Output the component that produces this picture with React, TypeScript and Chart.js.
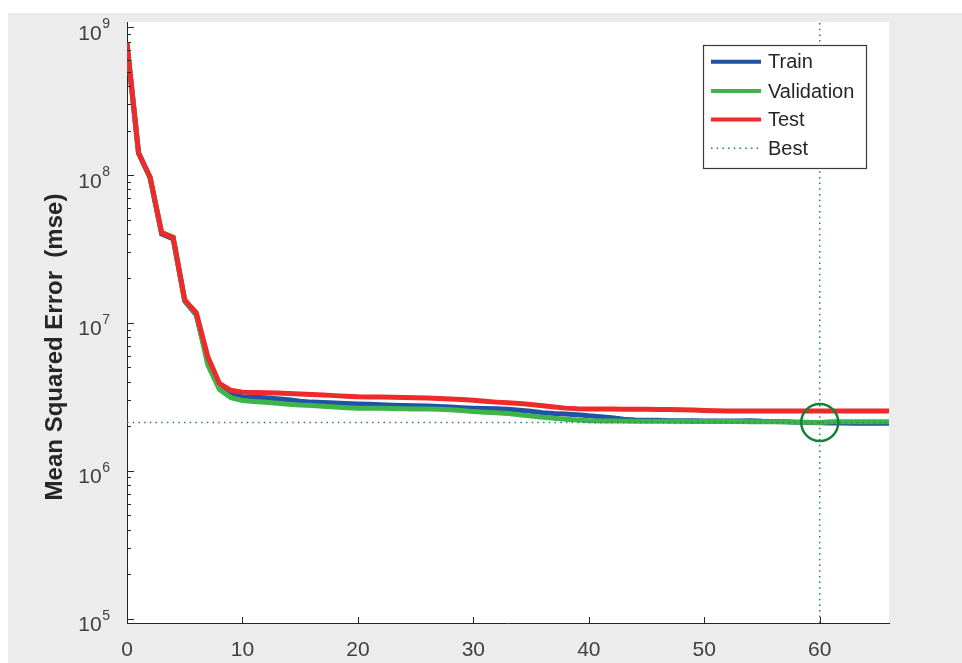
import React, { useEffect, useRef } from "react";
import { Chart, registerables } from "chart.js";

Chart.register(...registerables);

// ---------------- data ----------------
const epochs = [
  0, 1, 2, 3, 4, 5, 6, 7, 8, 9, 10, 11, 12, 13, 14, 15, 16, 17, 18, 19, 20, 21,
  22, 23, 24, 25, 26, 27, 28, 29, 30, 31, 32, 33, 34, 35, 36, 37, 38, 39, 40, 41,
  42, 43, 44, 45, 46, 47, 48, 49, 50, 51, 52, 53, 54, 55, 56, 57, 58, 59, 60, 61,
  62, 63, 64, 65, 66,
];

const trainMse = [
  7.6e8, 1.4e8, 9.6e7, 4.0e7, 3.7e7, 1.4e7, 1.13e7, 5.5e6, 3.75e6, 3.3e6,
  3.17e6, 3.14e6, 3.11e6, 3.07e6, 3.02e6, 2.95e6, 2.91e6, 2.89e6, 2.87e6, 2.85e6,
  2.83e6, 2.81e6, 2.79e6, 2.77e6, 2.76e6, 2.75e6, 2.74e6, 2.72e6, 2.7e6, 2.67e6,
  2.65e6, 2.63e6, 2.62e6, 2.6e6, 2.56e6, 2.52e6, 2.47e6, 2.44e6, 2.42e6, 2.39e6,
  2.35e6, 2.32e6, 2.28e6, 2.23e6, 2.2e6, 2.19e6, 2.19e6, 2.18e6, 2.18e6, 2.18e6,
  2.17e6, 2.17e6, 2.17e6, 2.17e6, 2.18e6, 2.16e6, 2.15e6, 2.14e6, 2.13e6, 2.12e6,
  2.11e6, 2.1e6, 2.1e6, 2.09e6, 2.09e6, 2.09e6, 2.09e6,
];

const validationMse = [
  7.7e8, 1.42e8, 9.5e7, 4.1e7, 3.8e7, 1.42e7, 1.15e7, 5.2e6, 3.55e6, 3.12e6,
  2.98e6, 2.94e6, 2.9e6, 2.86e6, 2.82e6, 2.78e6, 2.76e6, 2.73e6, 2.7e6, 2.67e6,
  2.65e6, 2.65e6, 2.64e6, 2.63e6, 2.62e6, 2.61e6, 2.61e6, 2.6e6, 2.58e6, 2.55e6,
  2.51e6, 2.49e6, 2.47e6, 2.44e6, 2.39e6, 2.34e6, 2.3e6, 2.26e6, 2.23e6, 2.2e6,
  2.18e6, 2.17e6, 2.17e6, 2.17e6, 2.16e6, 2.16e6, 2.16e6, 2.16e6, 2.16e6, 2.15e6,
  2.15e6, 2.15e6, 2.15e6, 2.15e6, 2.14e6, 2.14e6, 2.14e6, 2.14e6, 2.13e6, 2.13e6,
  2.12e6, 2.14e6, 2.14e6, 2.14e6, 2.14e6, 2.14e6, 2.14e6,
];

const testMse = [
  7.85e8, 1.41e8, 9.7e7, 4.06e7, 3.76e7, 1.43e7, 1.17e7, 5.9e6, 3.9e6, 3.5e6,
  3.4e6, 3.38e6, 3.37e6, 3.35e6, 3.33e6, 3.3e6, 3.28e6, 3.25e6, 3.22e6, 3.19e6,
  3.16e6, 3.15e6, 3.15e6, 3.14e6, 3.13e6, 3.12e6, 3.1e6, 3.08e6, 3.06e6, 3.03e6,
  3.0e6, 2.95e6, 2.91e6, 2.88e6, 2.85e6, 2.8e6, 2.75e6, 2.7e6, 2.65e6, 2.62e6,
  2.61e6, 2.61e6, 2.61e6, 2.6e6, 2.6e6, 2.6e6, 2.59e6, 2.59e6, 2.58e6, 2.57e6,
  2.55e6, 2.54e6, 2.53e6, 2.53e6, 2.53e6, 2.53e6, 2.53e6, 2.53e6, 2.53e6, 2.53e6,
  2.53e6, 2.53e6, 2.53e6, 2.53e6, 2.53e6, 2.53e6, 2.53e6,
];

const bestEpoch = 60;
const bestPerf = 2.12e6;

const seriesLabels = ["Train", "Validation", "Test", "Best"];
const xTicks = [0, 10, 20, 30, 40, 50, 60];
const yTicks = [1e5, 1e6, 1e7, 1e8, 1e9];
const yTickBase = "10";
const xRange = [0, 66];
const yRange = [9.33e4, 1.084e9];
const yTitle = "Mean Squared Error  (mse)";

// ---------------- styles ----------------
const FONT = "'Liberation Sans', Arial, Helvetica, sans-serif";
const COLORS = {
  train: "#2152a6",
  validation: "#3db54a",
  test: "#ee2a2a",
  best: "#1e8a4a",
  circle: "#168038",
  axis: "#262626",
  tickText: "#404040",
  figure: "#ececec",
};

const backgroundPlugin = {
  id: "figureBackground",
  beforeDraw(chart: any) {
    const { ctx, chartArea: a, width, height } = chart;
    ctx.save();
    ctx.fillStyle = COLORS.figure;
    ctx.fillRect(0, 0, width, height);
    ctx.fillStyle = "#ffffff";
    ctx.fillRect(a.left, a.top, a.right - a.left, a.bottom - a.top);
    ctx.restore();
  },
};

const decorPlugin = {
  id: "matlabDecor",
  afterDraw(chart: any) {
    const { ctx, chartArea: a } = chart;
    const xs = chart.scales.x;
    const ys = chart.scales.y;
    ctx.save();
    // inward ticks on y (major + minor)
    ctx.strokeStyle = COLORS.axis;
    ctx.lineWidth = 1;
    for (let d = 4; d <= 9; d++) {
      for (let m = 1; m <= 9; m++) {
        const v = m * Math.pow(10, d);
        if (v < ys.min || v > ys.max) continue;
        const py = Math.round(ys.getPixelForValue(v)) + 0.5;
        const len = m === 1 ? 7 : 4;
        ctx.beginPath();
        ctx.moveTo(a.left, py);
        ctx.lineTo(a.left + len, py);
        ctx.stroke();
      }
    }
    // inward ticks on x
    for (const t of xTicks) {
      const px = Math.round(xs.getPixelForValue(t)) + 0.5;
      ctx.beginPath();
      ctx.moveTo(px, a.bottom);
      ctx.lineTo(px, a.bottom - 6);
      ctx.stroke();
    }

    // y tick labels: 10 with superscript exponent
    ctx.fillStyle = COLORS.tickText;
    ctx.textBaseline = "alphabetic";
    for (const v of yTicks) {
      const py = ys.getPixelForValue(v);
      const exp = String(Math.round(Math.log10(v)));
      ctx.font = `14px ${FONT}`;
      ctx.textAlign = "right";
      const expRight = a.left - 17;
      const ew = ctx.measureText(exp).width;
      ctx.fillText(exp, expRight, py + 1);
      ctx.font = `21px ${FONT}`;
      ctx.fillText(yTickBase, expRight - ew - 0.5, py + 12.5);
    }

    // y-axis title
    ctx.save();
    ctx.translate(54, 334);
    ctx.rotate(-Math.PI / 2);
    ctx.font = `bold 24px ${FONT}`;
    ctx.fillStyle = COLORS.axis;
    ctx.textAlign = "center";
    ctx.textBaseline = "alphabetic";
    ctx.fillText(yTitle, 0, 0);
    ctx.restore();

    // legend box
    const bx = 695.5,
      by = 32.5,
      bw = 163,
      bh = 123;
    ctx.fillStyle = "#ffffff";
    ctx.fillRect(bx, by, bw, bh);
    ctx.strokeStyle = "#3a3a3a";
    ctx.lineWidth = 1.2;
    ctx.strokeRect(bx, by, bw, bh);
    const rows = [48.7, 78, 106.5, 135.3];
    const cols = [COLORS.train, COLORS.validation, COLORS.test, COLORS.best];
    ctx.font = `20px ${FONT}`;
    ctx.textAlign = "left";
    ctx.textBaseline = "middle";
    for (let i = 0; i < 4; i++) {
      const y = rows[i];
      ctx.strokeStyle = cols[i];
      if (i < 3) {
        ctx.lineWidth = 4;
        ctx.setLineDash([]);
      } else {
        ctx.lineWidth = 1.5;
        ctx.setLineDash([1.5, 4.2]);
      }
      ctx.beginPath();
      ctx.moveTo(703, y);
      ctx.lineTo(753, y);
      ctx.stroke();
      ctx.setLineDash([]);
      ctx.fillStyle = "#262626";
      ctx.fillText(seriesLabels[i], 760, y + 1);
    }
    ctx.restore();
  },
};

export default function App() {
  const canvasRef = useRef<HTMLCanvasElement | null>(null);

  useEffect(() => {
    const canvas = canvasRef.current;
    if (!canvas) return;

    const lineDs = (label: string, data: number[], color: string, order: number) => ({
      label,
      data,
      borderColor: color,
      backgroundColor: color,
      borderWidth: 5,
      pointRadius: 0,
      tension: 0,
      fill: false,
      order,
    });

    const chart = new Chart(canvas, {
      type: "line",
      data: {
        labels: epochs,
        datasets: [
          lineDs(seriesLabels[0], trainMse, COLORS.train, 5),
          lineDs(seriesLabels[1], validationMse, COLORS.validation, 4),
          lineDs(seriesLabels[2], testMse, COLORS.test, 3),
          {
            label: seriesLabels[3],
            data: [
              { x: xRange[0], y: bestPerf },
              { x: xRange[1], y: bestPerf },
            ],
            borderColor: COLORS.best,
            borderWidth: 1.5,
            borderDash: [1.5, 4.2],
            pointRadius: 0,
            fill: false,
            order: 2,
          },
          {
            label: "Best epoch",
            data: [
              { x: bestEpoch, y: yRange[0] },
              { x: bestEpoch, y: yRange[1] },
            ],
            borderColor: COLORS.best,
            borderWidth: 1.5,
            borderDash: [1.5, 4.2],
            pointRadius: 0,
            fill: false,
            order: 1,
          },
          {
            label: "Best point",
            data: [{ x: bestEpoch, y: bestPerf }],
            showLine: false,
            pointRadius: 18.5,
            pointStyle: "circle",
            pointBorderWidth: 2.5,
            pointBorderColor: COLORS.circle,
            pointBackgroundColor: "rgba(0,0,0,0)",
            borderColor: COLORS.circle,
            backgroundColor: "rgba(0,0,0,0)",
            order: 0,
            clip: false,
          },
        ] as any,
      },
      options: {
        animation: false,
        responsive: false,
        devicePixelRatio: 1,
        events: [],
        layout: { autoPadding: false, padding: { left: 0, top: 9, right: 73, bottom: 0 } },
        plugins: {
          legend: { display: false },
          tooltip: { enabled: false },
        },
        scales: {
          x: {
            type: "linear",
            min: xRange[0],
            max: xRange[1],
            grid: { display: false, drawTicks: false },
            border: { display: true, color: COLORS.axis, width: 1 },
            ticks: {
              padding: 15,
              autoSkip: false,
              maxRotation: 0,
              color: COLORS.tickText,
              font: { family: FONT, size: 21 },
              callback: (v: any) => String(v),
            },
            afterBuildTicks: (s: any) => {
              s.ticks = xTicks.map((v) => ({ value: v }));
            },
            afterFit: (s: any) => {
              s.height = 40;
              s.paddingLeft = 0;
              s.paddingRight = 0;
            },
          },
          y: {
            type: "logarithmic",
            min: yRange[0],
            max: yRange[1],
            grid: { display: false, drawTicks: false },
            border: { display: true, color: COLORS.axis, width: 1 },
            ticks: { display: false },
            afterBuildTicks: (s: any) => {
              s.ticks = yTicks.map((v) => ({ value: v }));
            },
            afterFit: (s: any) => {
              s.width = 119;
              s.paddingTop = 0;
              s.paddingBottom = 0;
            },
          },
        },
      } as any,
      plugins: [backgroundPlugin, decorPlugin],
    });

    return () => chart.destroy();
  }, []);

  return (
    <div
      style={{
        position: "fixed",
        left: 8,
        top: 13,
        width: 954,
        height: 650,
      }}
    >
      <canvas
        ref={canvasRef}
        width={954}
        height={650}
        style={{ display: "block", width: 954, height: 650 }}
      />
    </div>
  );
}
